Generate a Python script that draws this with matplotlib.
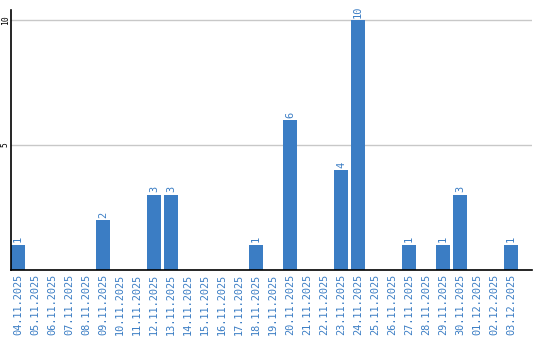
import matplotlib.pyplot as plt
import numpy as np

dates = ["04.11.2025", "05.11.2025", "06.11.2025", "07.11.2025", "08.11.2025",
         "09.11.2025", "10.11.2025", "11.11.2025", "12.11.2025", "13.11.2025",
         "14.11.2025", "15.11.2025", "16.11.2025", "17.11.2025", "18.11.2025",
         "19.11.2025", "20.11.2025", "21.11.2025", "22.11.2025", "23.11.2025",
         "24.11.2025", "25.11.2025", "26.11.2025", "27.11.2025", "28.11.2025",
         "29.11.2025", "30.11.2025", "01.12.2025", "02.12.2025", "03.12.2025"]
counts = [1, 0, 0, 0, 0, 2, 0, 0, 3, 3, 0, 0, 0, 0, 1, 0, 6, 0, 0, 4,
          10, 0, 0, 1, 0, 1, 3, 0, 0, 1]
y_ticks = [5, 10]

bar_color = "#3b7dc4"
label_color = "#3b7dc4"

fig = plt.figure(figsize=(5.4, 3.4), dpi=100)
ax = fig.add_axes([11 / 540, 70 / 340, 521 / 540, 260 / 340])

x = np.arange(len(dates))
ax.bar(x, counts, width=0.82, color=bar_color, zorder=2)

for xi, v in zip(x, counts):
    if v > 0:
        ax.text(xi, v + 0.1, str(v), rotation=90, ha="center", va="bottom",
                color=label_color, fontsize=7.5, family="DejaVu Sans Mono")

# slot pitch about 17 px, axes keeps some blank room on the right
ax.set_xlim(-0.41, -0.41 + 521 / 17)
ax.set_ylim(0, 10.4)
ax.set_xticks(x)
ax.set_xticklabels(dates, rotation=90, color=label_color, fontsize=7.4,
                   family="DejaVu Sans Mono")
ax.set_yticks(y_ticks)
ax.set_yticklabels([str(t) for t in y_ticks], rotation=90, va="center",
                   fontsize=5.8, family="DejaVu Sans Mono")
ax.tick_params(axis="x", length=0, pad=3)
ax.tick_params(axis="y", length=0, pad=1)
ax.grid(axis="y", color="#c8c8c8", linewidth=1, zorder=0)
ax.spines["top"].set_visible(False)
ax.spines["right"].set_visible(False)
ax.spines["left"].set_linewidth(1.2)
ax.spines["bottom"].set_linewidth(1.2)

fig.savefig("out.png", dpi=100)
